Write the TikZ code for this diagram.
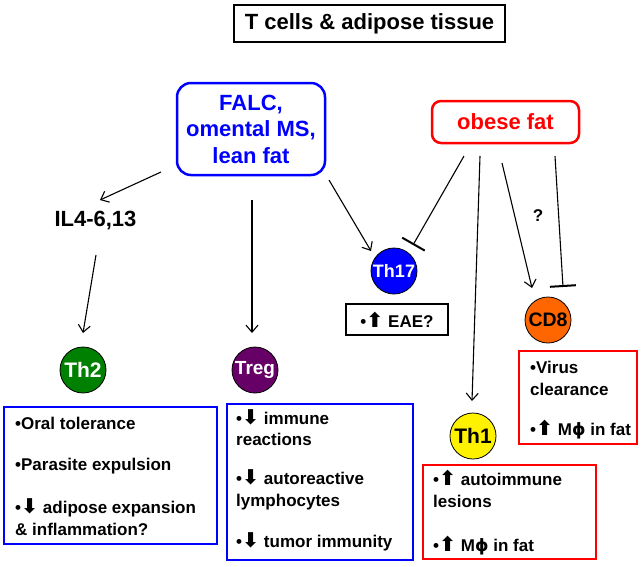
\documentclass[tikz,border=0pt]{standalone}
\usepackage{fontspec}
\setmainfont{Liberation Sans}
\newfontfamily\symf{DejaVu Sans}
\usetikzlibrary{arrows.meta}
\newcommand{\myup}{{\symf\bfseries\scalebox{1.2}{⬆}}}
\newcommand{\mydn}{{\symf\bfseries\scalebox{1.2}{⬇}}}
\newcommand{\mphi}{M{\symf\bfseries ϕ}}
\definecolor{thgreen}{RGB}{0,128,0}
\definecolor{thpurple}{RGB}{102,0,102}
\definecolor{thorange}{RGB}{255,102,0}
\tikzset{
  arr/.style={line width=1.1pt,-{Straight Barb[length=7pt,width=12pt]}},
  inh/.style={line width=1.1pt,-{Bar[width=26pt,line width=2pt]}},
  cell/.style={circle,draw=black,line width=0.8pt,minimum size=46pt,inner sep=0pt},
  infobox/.style={draw,line width=2.5pt,inner sep=0pt},
  infotext/.style={anchor=base west,align=left,inner sep=0pt,font=\fontsize{17}{21.5}\selectfont\bfseries},
  big/.style={font=\fontsize{22}{26.5}\selectfont\bfseries}
}
\begin{document}
\begin{tikzpicture}[x=1pt,y=-1pt]
\useasboundingbox[fill=white] (0,0) rectangle (642,566);
% title
\node[infobox,minimum width=271pt,minimum height=37pt,big] (title) at (369.5,23.5) {T cells \& adipose tissue};
% sources
\node[draw=blue,text=blue,line width=2.5pt,rounded corners=14pt,minimum width=148pt,minimum height=92pt,align=center,big,inner sep=0pt] (falc) at (251,129) {FALC,\\omental MS,\\lean fat};
\node[draw=red,text=red,line width=2.5pt,rounded corners=9pt,minimum width=147pt,minimum height=42pt,big,inner sep=0pt] (obese) at (505.5,122) {obese fat};
\node[big,inner sep=0pt] (il4) at (95.5,220.5) {IL4-6,13};
% cells
\node[cell,fill=thgreen,text=white,font=\fontsize{21}{24}\selectfont\bfseries] (th2) at (83,370) {Th2};
\node[cell,fill=thpurple,text=white,font=\fontsize{19}{22}\selectfont\bfseries] (treg) at (255,370) {Treg};
\node[cell,fill=blue,text=white,font=\fontsize{18}{22}\selectfont\bfseries] (th17) at (394,271) {Th17};
\node[cell,fill=yellow,text=black,font=\fontsize{21}{24}\selectfont\bfseries] (th1) at (473,436) {Th1};
\node[cell,fill=thorange,text=black,font=\fontsize{19.5}{23}\selectfont\bfseries] (cd8) at (548,320) {CD8};
% info boxes (text nodes anchored at the baseline of their last line)
\node[infobox,draw=blue,minimum width=213pt,minimum height=137pt] (th2box) at (110.5,475.5) {};
\node[infotext] (th2txt) at (15,535) {•Oral tolerance\\[19.5pt]•Parasite expulsion\\[21.5pt]•\mydn{} adipose expansion\\\& inflammation?};
\node[infobox,draw=blue,minimum width=186pt,minimum height=156pt] (tregbox) at (320,482) {};
\node[infotext] (tregtxt) at (236,547) {•\mydn{} immune\\reactions\\[17.5pt]•\mydn{} autoreactive\\lymphocytes\\[19.5pt]•\mydn{} tumor immunity};
\node[infobox,draw=black,minimum width=102pt,minimum height=31pt] (eaebox) at (397,319.5) {};
\node[infotext,anchor=base] (eaetxt) at (397,327) {•\myup{} EAE?};
\node[infobox,draw=red,minimum width=173pt,minimum height=94pt] (th1box) at (509.5,512) {};
\node[infotext] (th1txt) at (433,551) {•\myup{} autoimmune\\lesions\\[22.5pt]•\myup{} \mphi{} in fat};
\node[infobox,draw=red,minimum width=118pt,minimum height=93pt] (cd8box) at (578,397.5) {};
\node[infotext] (cd8txt) at (530,435) {•Virus\\clearance\\[18.5pt]•\myup{} \mphi{} in fat};
\node[font=\fontsize{17}{20}\selectfont\bfseries,inner sep=0pt] (q) at (538,216) {?};
% connector end points
\coordinate (s1) at (161,172); \coordinate (e1) at (100,200);
\coordinate (s2) at (96,255);  \coordinate (e2) at (83,333);
\coordinate (s3) at (252,200); \coordinate (e3) at (252,333);
\coordinate (s4) at (329,180); \coordinate (e4) at (371,251);
\coordinate (s5) at (464,156); \coordinate (e5) at (413,245);
\coordinate (s6) at (480,156); \coordinate (e6) at (472,401);
\coordinate (s7) at (502,163); \coordinate (e7) at (532,288);
\coordinate (s8) at (555,156); \coordinate (e8) at (563,287);
\draw[arr] (s1) -- (e1);
\draw[arr] (s2) -- (e2);
\draw[arr] (s3) -- (e3);
\draw[arr] (s4) -- (e4);
\draw[inh] (s5) -- (e5);
\draw[arr] (s6) -- (e6);
\draw[arr] (s7) -- (e7);
\draw[inh] (s8) -- (e8);
\end{tikzpicture}
\end{document}
